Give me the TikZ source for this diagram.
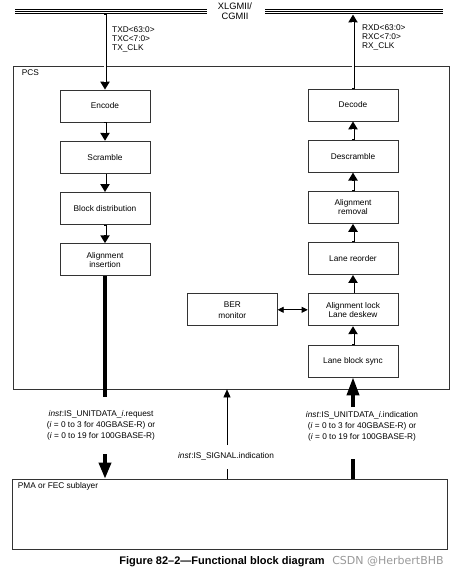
\documentclass[tikz,border=0pt]{standalone}
\usepackage{fontspec}
\setmainfont{Liberation Sans}
\newfontfamily\wmfont{DejaVu Sans}
\usetikzlibrary{arrows.meta,positioning}

\tikzset{
  blk/.style={draw=black!80, line width=.7pt, minimum width=90pt, minimum height=32pt,
    align=center, inner sep=1pt, font=\fontsize{8.3}{9}\selectfont},
  frame/.style={draw=black!80, line width=.7pt, inner sep=0pt},
  link/.style={draw, line width=3pt, -{Triangle[width=9pt,length=8pt]},
    postaction={draw=white, line width=1.4pt, -, shorten >=8pt, shorten <=.8pt}},
  bus/.style={line width=3.6pt},
  lbl/.style={font=\fontsize{8.3}{9}\selectfont, align=left, inner sep=0pt},
  prim/.style={font=\fontsize{8.3}{11}\selectfont, align=center, inner sep=0pt},
}

\begin{document}
\begin{tikzpicture}[x=1pt,y=-1pt,node distance=18.5pt]
      \useasboundingbox (0,0) rectangle (464,575);

      % XLGMII/CGMII bus
      \foreach \y in {9.5,11.5,13.5} {
        \draw[line width=.7pt] (15,\y) -- (207,\y) (265,\y) -- (443,\y);
      }
      \node[lbl, align=center, font=\fontsize{9.3}{10.5}\selectfont] (xlgmii) at (235,11) {XLGMII/\\CGMII};
      \coordinate (txtop) at (105,14.5);
      \coordinate (rxtop) at (353,14.5);
      \node[lbl, anchor=north west] (txsig) at (112,27) {TXD<63:0>\\TXC<7:0>\\TX\_CLK};
      \node[lbl, anchor=north west] (rxsig) at (362,25) {RXD<63:0>\\RXC<7:0>\\RX\_CLK};

      % PCS
      \node[frame, minimum width=436pt, minimum height=323pt] (pcs) at (231,227.5) {};
      \node[lbl, anchor=north west] (pcslbl) at ([xshift=9pt,yshift=-4pt]pcs.north west) {PCS};

      % transmit
      \node[blk] (enc) at (105,106) {Encode};
      \node[blk, below=of enc] (scr) {Scramble};
      \node[blk, below=of scr] (bdist) {Block distribution};
      \node[blk, below=of bdist] (ains) {Alignment\\insertion};
      \draw[link] (txtop) -- (enc);
      \foreach \a/\b in {enc/scr,scr/bdist,bdist/ains} {
        \draw[link] (\a) -- (\b);
      }

      % receive
      \node[blk] (dec) at (353,105) {Decode};
      \node[blk, below=of dec] (descr) {Descramble};
      \node[blk, below=of descr] (arem) {Alignment\\removal};
      \node[blk, below=of arem] (lreord) {Lane reorder};
      \node[blk, below=of lreord] (alock) {Alignment lock\\Lane deskew};
      \node[blk, below=of alock] (lbsync) {Lane block sync};
      \node[blk, left=30pt of alock] (ber) {BER\\[2pt]monitor};
      \draw[link] (dec) -- (rxtop);
      \foreach \a/\b in {lbsync/alock,alock/lreord,lreord/arem,arem/descr,descr/dec} {
        \draw[link] (\a) -- (\b);
      }
      \draw[line width=.7pt, {Triangle[width=6pt,length=6pt]}-{Triangle[width=6pt,length=6pt]}] (ber) -- (alock);

      % PMA or FEC
      \node[frame, minimum width=435pt, minimum height=70pt] (pma) at (229.5,514) {};
      \node[lbl, anchor=north west] (pmalbl) at ([xshift=6pt,yshift=-4pt]pma.north west) {PMA or FEC sublayer};

      % service primitives
      \coordinate (txend) at (105,397);
      \coordinate (txbeg) at (105,454);
      \draw[bus] (ains.south) -- (txend);
      \draw[bus, -{Triangle[width=12pt,length=16pt]}] (txbeg) -- (pma.north -| txbeg);
      \node[prim] (txprim) at (101,425) {\textit{inst}:IS\_UNITDATA\_\textit{i}.request\\
        (\textit{i} = 0 to 3 for 40GBASE-R) or\\(\textit{i} = 0 to 19 for 100GBASE-R)};

      \coordinate (sigbeg) at (227,445);
      \coordinate (sigstub) at (227,469);
      \draw[line width=.7pt] (pma.north -| sigstub) -- (sigstub);
      \draw[line width=.7pt, -{Triangle[width=7pt,length=8pt]}] (sigbeg) -- (pcs.south -| sigbeg);
      \node[prim] (sigprim) at (226,456) {\textit{inst}:IS\_SIGNAL.indication};

      \coordinate (rxbeg) at (353,407);
      \coordinate (rxstub) at (353,459);
      \draw[bus] (pma.north -| rxstub) -- (rxstub);
      \draw[bus, -{Triangle[width=12pt,length=18pt]}] (rxbeg) -- (lbsync.south);
      \node[prim] (rxprim) at (362,426) {\textit{inst}:IS\_UNITDATA\_\textit{i}.indication\\
        (\textit{i} = 0 to 3 for 40GBASE-R) or\\(\textit{i} = 0 to 19 for 100GBASE-R)};

      % caption
      \node[inner sep=0pt, font=\fontsize{11}{13}\bfseries\selectfont] (cap) at (222,562)
        {Figure 82--2---Functional block diagram};
      \node[inner sep=0pt, text=black!40, font=\wmfont\fontsize{11}{13}\selectfont] (wm) at (388,561)
        {CSDN @HerbertBHB};

\end{tikzpicture}
\end{document}
